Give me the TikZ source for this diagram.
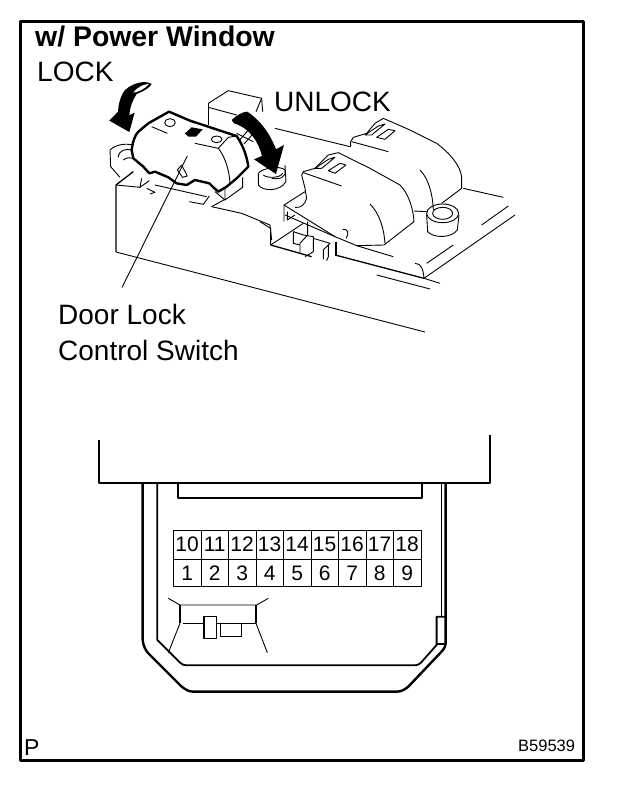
\documentclass[tikz,border=0pt]{standalone}
\usepackage{fontspec}
\setmainfont{Liberation Sans}
\begin{document}
\begin{tikzpicture}[x=1pt,y=-1pt,line join=round,
 thin line/.style={line width=0.9pt},
 mid line/.style={line width=1.3pt},
 heavy line/.style={line width=2.4pt},
 label text/.style={inner sep=0pt,anchor=west,font=\fontsize{28}{28}\selectfont},
 pin text/.style={inner sep=0pt,anchor=center,font=\fontsize{21}{21}\selectfont},
 zone a/.style={shift={(90,70)},x=0.3333pt,y=-0.3333pt},
 zone b/.style={shift={(260,100)},x=0.3333pt,y=-0.3333pt},
 zone c/.style={shift={(130,430)},x=0.3333pt,y=-0.3333pt}]
\useasboundingbox (0,0) rectangle (624,788);
\fill[white] (0,0) rectangle (624,788);
\draw[line width=3pt] (20,21) rectangle (583,760);
% texts
\node[label text,font=\bfseries\fontsize{28.4}{28}\selectfont] (title) at (35,36) {w/ Power Window};
\node[label text] (lock) at (37,72) {LOCK};
\node[label text] (unlock) at (274,102) {UNLOCK};
\node[label text] (doorlock) at (58,314) {Door Lock};
\node[label text] (control) at (58,350) {Control Switch};
\node[inner sep=0pt,anchor=west,font=\fontsize{23}{23}\selectfont] (p) at (24,748) {P};
\node[inner sep=0pt,anchor=west,font=\fontsize{16.5}{16}\selectfont] (code) at (518,745.5) {B59539};
% switch assembly, left
\begin{scope}[zone a]
\fill[black] (58,152)--(118,186)--(134,128)--(118,136)..controls (120,110) and (128,90)..(140,72)..controls (165,62) and (180,52)..(185,42)..controls (165,30) and (130,38)..(105,60)..controls (90,80) and (85,105)..(84,125)--cycle;
\fill[white] (130,68)..controls (145,48) and (165,42)..(177,42)..controls (165,55) and (150,65)..(130,68)--cycle;
\draw[thin line] (355,100)--(415,62)--(515,85)--(518,125);
\draw[thin line] (355,100)--(355,165);
\draw[thin line] (355,112)--(440,135);
\draw[thin line] (515,85)--(498,125);
\draw[thin line] (60,240)..controls (75,225) and (105,218)..(132,226);
\draw[thin line] (60,240)--(62,290)--(90,322);
\draw[thin line] (85,262)..controls (85,240) and (110,235)..(125,240);
\draw[thin line] (100,270)..controls (110,262) and (120,262)..(130,265);
\draw[mid line] (78,546)--(78,345)--(130,305);
\draw[thin line] (78,345)--(150,352)--(155,325);
\draw[thin line] (150,352)--(178,332);
\draw[thin line] (195,345)--(350,380);
\draw[thin line] (170,355)--(195,367)--(180,372);
\draw[thin line] (298,395)--(340,403)--(358,378);
\draw[thin line] (365,410)--(405,388);
\draw[thin line] (365,410)--(455,430)--(540,465)--(545,510);
\draw[thin line] (405,350)--(405,390)--(458,352)--(458,322);
\draw[thin line] (375,365)--(405,390);
\draw[thin line] (440,190)--(490,215);
\draw[thin line] (445,215)--(475,180);
\draw[thin line] (462,222)--(495,185);
% bolt
\draw[thin line] (505,310)..controls (515,295) and (570,285)..(585,300)..controls (590,320) and (570,330)..(545,325);
\draw[thin line] (520,315)..controls (530,325) and (570,325)..(578,310);
\draw[thin line] (505,310)--(505,345)..controls (520,365) and (570,365)..(588,335)--(585,285);
% switch top
\draw[heavy line,fill=white] (237,125)--(300,152)--(400,185)--(440,198)..controls (458,225) and (470,255)..(475,290)--(440,325)--(410,350)--(385,365)--(370,352)--(358,340)--(315,330)--(290,345)--(260,340)--(235,322)--(195,305)--(178,310)--(160,290)--(130,265)--(125,240)..controls (128,215) and (135,195)..(145,185)--(175,160)--cycle;
\draw[thin line] (240,158) ellipse [x radius=16,y radius=12];
\draw[thin line] (185,170)--(232,190);
\fill[black] (285,190)--(305,172)--(338,178)--(318,200)--(295,200)--cycle;
\draw[thin line] (380,208) ellipse [x radius=16,y radius=10];
\draw[thin line] (315,220)--(385,235)--(415,202)--(440,198);
\draw[thin line] (385,235)..controls (405,260) and (418,300)..(420,340);
\draw[thin line] (262,300)--(275,285)--(292,318)--(278,322)--cycle;
\fill[black] (425,150)..controls (440,135) and (460,125)..(472,125)..controls (510,150) and (540,190)..(558,238)--(582,225)--(558,312)--(492,268)--(516,258)..controls (505,215) and (480,175)..(432,160)--cycle;
\coordinate (leadtop) at (292,258);
\end{scope}
\draw[thin line] ([shift={(64pt,16pt)}]doorlock.north west)--(leadtop);
% right switches
\begin{scope}[zone b]
\draw[thin line] (45,85)--(270,140);
\draw[thin line] (272,140)--(272,125)--(280,112)--(320,100)--(345,70)--(370,55)--(450,90)--(530,130)..controls (570,160) and (600,195)..(605,230)--(605,265)--(545,310);
\draw[thin line] (275,125)--(385,155);
\draw[thin line] (480,210)..controls (505,235) and (518,280)..(520,330);
\draw[thin line] (315,105)--(355,78)--(375,72)--(335,105)--cycle;
\draw[thin line] (350,112)--(385,88)--(405,92)--(375,118)--cycle;
\draw[thin line,fill=white] (125,225)--(130,215)--(165,205)--(205,165)--(235,158)--(330,205)--(420,255)..controls (445,280) and (460,325)..(462,365)--(372,435)--(290,437)--(225,410)--(75,345);
\draw[thin line] (125,225)--(135,265)--(140,295)..controls (135,315) and (120,325)..(105,322);
\draw[thin line] (135,275)--(72,315)--(72,365);
\draw[thin line] (72,315)--(225,410);
\draw[thin line] (82,335)--(82,360)--(105,345);
\draw[thin line] (130,218)--(245,258);
\draw[thin line] (165,205)--(205,178)--(225,172)--(185,205)--cycle;
\draw[thin line] (205,212)--(240,190)--(258,195)--(225,220)--cycle;
\draw[thin line] (330,312)..controls (358,340) and (372,385)..(375,430);
\draw[thin line] (248,388)..controls (262,385) and (270,400)..(258,415);
\draw[thin line] (462,333)--(500,335);
% bolt
\draw[thin line] (548,340) ellipse [x radius=48,y radius=28];
\draw[thin line] (548,340) ellipse [x radius=30,y radius=18];
\draw[thin line] (500,345)--(503,395)..controls (520,415) and (575,415)..(592,390)--(597,345);
% base
\draw[thin line] (610,265)--(730,292);
\draw[thin line] (745,318)--(665,375);
\draw[thin line] (765,345)--(492,535);
\draw[thin line] (465,490)..controls (485,490) and (490,510)..(492,535)--(540,550);
\draw[mid line] (225,465)--(492,535);
\draw[thin line] (350,525)--(510,567);
\draw[thin line] (580,435)--(500,490);
\draw[thin line] (290,437)--(400,470);
\draw[mid line] (32,435)--(155,470);
\draw[thin line] (32,435)--(130,370);
\draw[thin line] (32,435)--(32,385)--(0,365);
\draw[thin line] (143,365)--(143,405)--(120,430)--(120,460);
\draw[thin line] (100,395)--(100,430)--(120,435);
\draw[thin line] (100,395)--(130,405)--(160,410)--(160,455)--(135,470);
\draw[thin line] (160,415)--(210,430)--(190,450)--(190,478);
\draw[mid line] (228,425)--(228,465);
\draw[thin line] (205,435)--(205,470)--(200,482);
\end{scope}
\draw[thin line] (116,252)--(425,332);
% lower part
\begin{scope}[zone c]
\draw[heavy line] (38,160)--(38,630)..controls (40,650) and (48,662)..(55,670)--(155,770)..controls (168,780) and (178,785)..(190,785)--(800,785)..controls (815,785) and (825,778)..(835,770)--(930,670)..controls (940,660) and (947,650)..(947,640)--(947,160);
\draw[mid line] (935,160)--(935,560);
\draw[line width=1.8pt] (82,160)--(82,630)--(150,698)..controls (157,704) and (162,706)..(170,706)--(855,706)..controls (862,706) and (868,703)..(873,698)--(920,645)--(920,560)--(947,560);
\draw[mid line] (920,642)--(947,642);
\draw[line width=1.8pt] (145,160)--(145,205)--(875,205)--(875,160);
\draw[thin line] (115,505)--(150,525)--(380,525)--(415,505);
\draw[mid line] (150,525)--(150,580);
\draw[thin line] (150,580)--(115,668);
\draw[mid line] (378,525)--(378,580);
\draw[thin line] (378,580)--(412,668);
\draw[thin line] (160,580)--(222,580);
\draw[mid line] (222,560) rectangle (260,625);
\draw[mid line] (260,580)--(378,580);
\draw[thin line] (272,580)--(272,618)--(335,618);
\draw[mid line] (335,618)--(335,580);
\end{scope}
% open cover box
\draw[line width=1.3pt] (99,440)--(99,483)--(490,483)--(490,435);
% pin grid
\foreach \n [count=\i from 0] in {10,...,18}{
 \node[draw,line width=0.8pt,minimum width=27.5pt,minimum height=29pt,inner sep=0pt,pin text] (up\n) at ({173.4+27.5*(\i+0.5)},544.5) {\n};
}
\foreach \n [count=\i from 0] in {1,...,9}{
 \node[draw,line width=0.8pt,minimum width=27.5pt,minimum height=27.5pt,inner sep=0pt,pin text] (lo\n) at ({173.4+27.5*(\i+0.5)},573) {\n};
}
\end{tikzpicture}
\end{document}
